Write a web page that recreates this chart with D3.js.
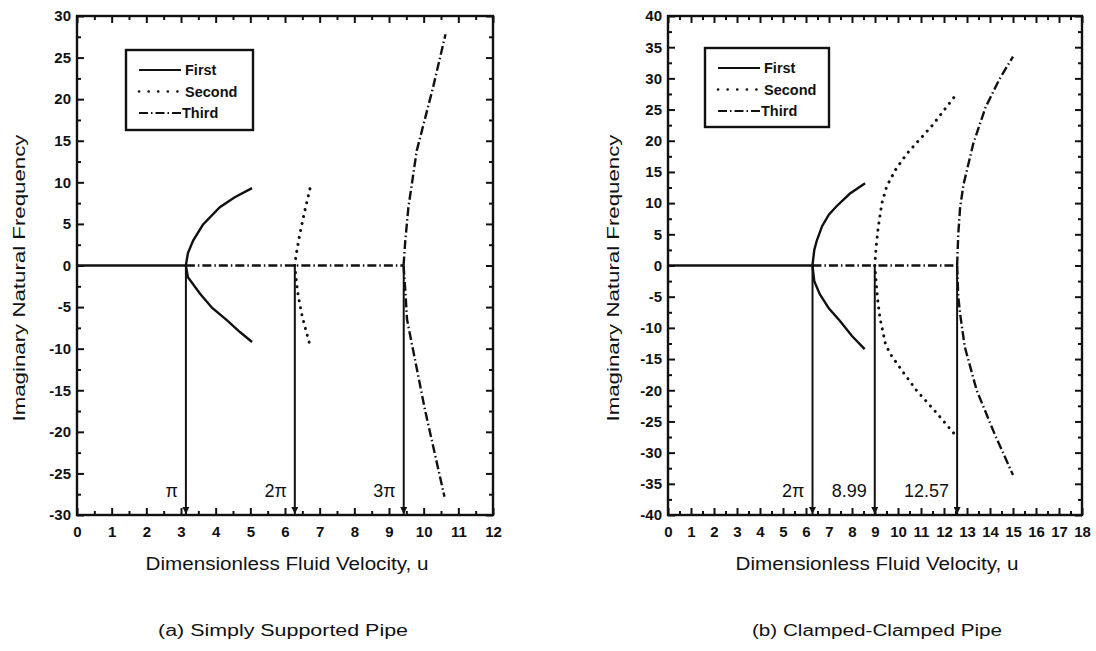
<!DOCTYPE html>
<html><head><meta charset="utf-8">
<script src="https://cdn.jsdelivr.net/npm/d3@7"></script>
<style>body{margin:0;background:#fff}</style>
</head><body><div id="chart"></div><script>
// ---- data: [u, frequency]
// (a) simply supported
const ssFirstUp   = [[3.14,0],[3.2,1.5],[3.35,3],[3.63,4.9],[4.12,7.0],[4.55,8.2],[5.05,9.3]]
const ssFirstDn   = [[3.14,0],[3.2,-1.4],[3.55,-3.4],[3.9,-5.1],[4.33,-6.6],[4.7,-8.0],[5.05,-9.2]]
const ssSecondUp  = [[6.28,0],[6.33,1.5],[6.42,3.6],[6.55,6.2],[6.74,9.6]]
const ssSecondDn  = [[6.28,0],[6.33,-2],[6.38,-3.6],[6.5,-6.2],[6.72,-9.6]]
const ssThirdUp   = [[9.42,0],[9.47,3],[9.56,7],[9.8,13.8],[10.27,21.4],[10.63,27.8]]
const ssThirdDn   = [[9.42,0],[9.47,-3],[9.52,-6.5],[10.04,-17.4],[10.6,-27.8]]
const ssZeroSolid = [[0,0],[3.14,0]]
const ssZeroDash  = [[3.14,0],[9.42,0]]
const ssArrows    = [3.1416, 6.2832, 9.4248]
const ssArrowText = ['π', '2π', '3π']

// (b) clamped-clamped
const ccFirstUp   = [[6.28,0],[6.36,2.5],[6.47,4],[6.7,6.3],[7.0,8.2],[7.33,9.5],[7.9,11.5],[8.57,13.2]]
const ccFirstDn   = [[6.28,0],[6.36,-2.5],[6.6,-4.6],[7.0,-6.9],[7.48,-8.9],[8.0,-11.3],[8.55,-13.4]]
const ccSecondUp  = [[8.99,0],[9.05,3],[9.14,6.1],[9.3,10],[9.51,12.7],[9.9,15.4],[10.38,17.9],[11.5,22.5],[12.55,27.5]]
const ccSecondDn  = [[8.99,0],[9.1,-5],[9.22,-8.5],[9.45,-12.5],[9.65,-14.1],[10.2,-17],[10.8,-20],[11.6,-23.3],[12.45,-27]]
const ccThirdUp   = [[12.57,0],[12.62,5],[12.7,9.3],[12.85,13],[13.27,19.5],[13.8,25.3],[14.4,29.8],[15.0,33.5]]
const ccThirdDn   = [[12.57,0],[12.62,-5],[12.7,-7.7],[12.9,-13],[13.42,-20],[14.2,-27],[15.0,-33.6]]
const ccZeroSolid = [[0,0],[6.28,0]]
const ccZeroDash  = [[6.28,0],[12.57,0]]
const ccArrows    = [6.2832, 8.99, 12.57]
const ccArrowText = ['2π', '8.99', '12.57']

const legendNames = ['First', 'Second', 'Third']

const width = 1096, height = 651
const font = '"Liberation Sans", Arial, sans-serif'
const ink = '#111'
const dashes = { solid: null, dot: '0.1,7', dashdot: '9,3,1.5,3' }

const svg = d3.select('#chart').append('svg')
  .attr('width', width).attr('height', height)
  .style('font-family', font)

svg.append('defs').append('marker')
  .attr('id', 'arrow')
  .attr('viewBox', '0 0 10 10')
  .attr('refX', 10).attr('refY', 5)
  .attr('markerWidth', 9).attr('markerHeight', 7)
  .attr('markerUnits', 'userSpaceOnUse')
  .attr('orient', 'auto')
  .append('path').attr('d', 'M0,0 L10,5 L0,10 Z').attr('fill', ink)

function panel(opt) {
  const g = svg.append('g')
  const x = d3.scaleLinear().domain(opt.xDomain).range([opt.left, opt.right])
  const y = d3.scaleLinear().domain(opt.yDomain).range([opt.bottom, opt.top])
  const line = d3.line().x(d => x(d[0])).y(d => y(d[1]))

  const xMajor = d3.range(opt.xDomain[0], opt.xDomain[1] + 0.01, 1)
  const xMinor = d3.range(opt.xDomain[0] + 0.5, opt.xDomain[1], 1)
  const yMajor = d3.range(opt.yDomain[0], opt.yDomain[1] + 0.01, 5)
  const yMinor = d3.range(opt.yDomain[0] + 2.5, opt.yDomain[1], 5)
  const fmt = d => String(d)

  function styleAxis(a) {
    a.select('.domain').remove()
    a.selectAll('line').attr('stroke', ink).attr('stroke-width', 2)
    a.selectAll('text').attr('font-size', 15).attr('font-weight', 'bold').attr('fill', ink)
      .style('font-family', font)
  }
  const xsides = [
    [d3.axisBottom, `translate(0,${opt.bottom})`, true],
    [d3.axisTop, `translate(0,${opt.top})`, false],
  ]
  xsides.forEach(([ax, tr, lab]) => {
    g.append('g').attr('transform', tr)
      .call(ax(x).tickValues(xMajor).tickSize(-7).tickPadding(11).tickFormat(lab ? fmt : ''))
      .call(styleAxis)
    g.append('g').attr('transform', tr)
      .call(ax(x).tickValues(xMinor).tickSize(-4).tickFormat(''))
      .call(styleAxis)
  })
  const ysides = [
    [d3.axisLeft, `translate(${opt.left},0)`, true],
    [d3.axisRight, `translate(${opt.right},0)`, false],
  ]
  ysides.forEach(([ax, tr, lab]) => {
    g.append('g').attr('transform', tr)
      .call(ax(y).tickValues(yMajor).tickSize(-7).tickPadding(6).tickFormat(lab ? fmt : ''))
      .call(styleAxis)
    g.append('g').attr('transform', tr)
      .call(ax(y).tickValues(yMinor).tickSize(-4).tickFormat(''))
      .call(styleAxis)
  })

  g.append('rect')
    .attr('x', opt.left).attr('y', opt.top)
    .attr('width', opt.right - opt.left).attr('height', opt.bottom - opt.top)
    .attr('fill', 'none').attr('stroke', ink).attr('stroke-width', 2.4)

  // arrows down to the axis
  opt.arrows.forEach((u, i) => {
    g.append('line')
      .attr('x1', x(u)).attr('x2', x(u))
      .attr('y1', y(0)).attr('y2', y(opt.yDomain[0]) - 1)
      .attr('stroke', ink).attr('stroke-width', 2)
      .attr('marker-end', 'url(#arrow)')
    g.append('text')
      .attr('x', x(u) - 8).attr('y', 497)
      .attr('text-anchor', 'end')
      .attr('font-size', 18).attr('fill', ink)
      .text(opt.arrowText[i])
  })

  // curves
  opt.series.forEach(s => {
    g.append('path').datum(s.data)
      .attr('d', line)
      .attr('fill', 'none').attr('stroke', ink)
      .attr('stroke-width', s.style === 'dot' ? 3 : 2.4)
      .attr('stroke-linecap', s.style === 'dot' ? 'round' : 'butt')
      .attr('stroke-dasharray', dashes[s.style])
  })

  // legend
  const L = opt.legend
  const lg = g.append('g')
  lg.append('rect')
    .attr('x', L.x).attr('y', L.y).attr('width', L.w).attr('height', L.h)
    .attr('fill', '#fff').attr('stroke', ink).attr('stroke-width', 2.4)
  const styles = ['solid', 'dot', 'dashdot']
  legendNames.forEach((n, i) => {
    const yy = L.y + 20 + i * 21.5
    lg.append('line')
      .attr('x1', L.x + 13).attr('x2', L.x + 55)
      .attr('y1', yy).attr('y2', yy)
      .attr('stroke', ink).attr('stroke-width', i === 1 ? 2.6 : 2)
      .attr('stroke-linecap', styles[i] === 'dot' ? 'round' : 'butt')
      .attr('stroke-dasharray', i === 1 ? '0.1,9.5' : dashes[styles[i]])
    lg.append('text')
      .attr('x', L.x + (i === 2 ? 56 : 59)).attr('y', yy + 5)
      .attr('font-size', 14.5).attr('font-weight', 'bold').attr('fill', ink)
      .text(n)
  })

  // titles
  g.append('text')
    .attr('x', opt.xTitle[0]).attr('y', 570)
    .attr('text-anchor', 'middle').attr('font-size', 17.5).attr('fill', ink)
    .attr('textLength', opt.xTitle[1]).attr('lengthAdjust', 'spacingAndGlyphs')
    .text('Dimensionless Fluid Velocity, u')
  g.append('text')
    .attr('transform', `translate(${opt.yTitleX},278) rotate(-90)`)
    .attr('text-anchor', 'middle').attr('font-size', 17).attr('fill', ink)
    .attr('textLength', 287).attr('lengthAdjust', 'spacingAndGlyphs')
    .text('Imaginary Natural Frequency')
  g.append('text')
    .attr('x', opt.caption[0]).attr('y', 636)
    .attr('text-anchor', 'middle').attr('font-size', 16).attr('fill', ink)
    .attr('textLength', opt.caption[1]).attr('lengthAdjust', 'spacingAndGlyphs')
    .text(opt.caption[2])
}

panel({
  left: 77, right: 493, top: 16, bottom: 515,
  xDomain: [0, 12], yDomain: [-30, 30],
  arrows: ssArrows, arrowText: ssArrowText,
  legend: { x: 126, y: 50, w: 127, h: 80 },
  yTitleX: 25, xTitle: [287, 283],
  caption: [283, 250, '(a) Simply Supported Pipe'],
  series: [
    { data: ssZeroDash, style: 'dashdot' },
    { data: ssThirdUp, style: 'dashdot' }, { data: ssThirdDn, style: 'dashdot' },
    { data: ssSecondUp, style: 'dot' }, { data: ssSecondDn, style: 'dot' },
    { data: ssZeroSolid, style: 'solid' },
    { data: ssFirstUp, style: 'solid' }, { data: ssFirstDn, style: 'solid' },
  ]
})

panel({
  left: 668, right: 1082, top: 16, bottom: 515,
  xDomain: [0, 18], yDomain: [-40, 40],
  arrows: ccArrows, arrowText: ccArrowText,
  legend: { x: 705, y: 48, w: 124, h: 79 },
  yTitleX: 619, xTitle: [877, 283],
  caption: [877, 250, '(b) Clamped-Clamped Pipe'],
  series: [
    { data: ccZeroDash, style: 'dashdot' },
    { data: ccThirdUp, style: 'dashdot' }, { data: ccThirdDn, style: 'dashdot' },
    { data: ccSecondUp, style: 'dot' }, { data: ccSecondDn, style: 'dot' },
    { data: ccZeroSolid, style: 'solid' },
    { data: ccFirstUp, style: 'solid' }, { data: ccFirstDn, style: 'solid' },
  ]
})
</script></body></html>
